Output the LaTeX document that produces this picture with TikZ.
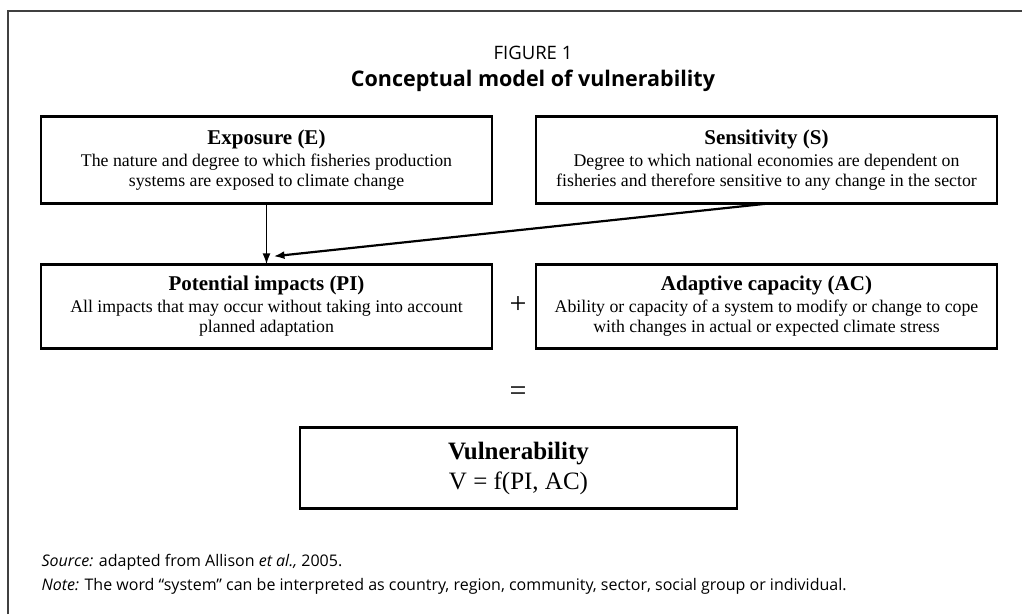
\documentclass[tikz,border=0pt]{standalone}
\usepackage{fontspec}
\setmainfont{Liberation Serif}
\setsansfont{Open Sans}
\usetikzlibrary{arrows.meta}

\newcommand{\boxhead}[1]{{\fontsize{21}{21}\selectfont\bfseries #1}}

\tikzset{
    frame/.style={line width=2pt, black!75},
    factor/.style={draw, line width=1.4pt, inner sep=0pt, align=center,
        font=\fontsize{17.8}{20}\selectfont},
    link/.style={-{Latex[length=11pt,width=8pt]}, line width=1.5pt},
    sign/.style={font=\fontsize{30}{30}\selectfont},
    remark/.style={anchor=west, font=\sffamily\fontsize{16}{19}\selectfont}
}

\begin{document}
\begin{tikzpicture}[x=1pt, y=-1pt]
    \useasboundingbox (0,0) rectangle (1022,614);
    \draw[frame] (8,614) -- (8,11) -- (1022,11);

    % heading
    \node[font=\sffamily\fontsize{18.5}{20}\selectfont] (fig) at (533,53) {FIGURE 1};
    \node[font=\sffamily\bfseries\fontsize{21.5}{24}\selectfont] (head) at (533,81)
        {Conceptual model of vulnerability};

    % the four factors
    \node[factor, minimum width=451pt, minimum height=86pt] (expo) at (266.5,160)
        {\boxhead{Exposure (E)}\\[2pt]The nature and degree to which fisheries production\\
         systems are exposed to climate change};
    \node[factor, minimum width=461pt, minimum height=86pt] (sens) at (766.5,160)
        {\boxhead{Sensitivity (S)}\\[2pt]Degree to which national economies are dependent on\\
         fisheries and therefore sensitive to any change in the sector};
    \node[factor, minimum width=451pt, minimum height=83pt] (pi) at (266.5,306.5)
        {\boxhead{Potential impacts (PI)}\\[2pt]All impacts that may occur without taking into account\\
         planned adaptation};
    \node[factor, minimum width=461pt, minimum height=83pt] (ac) at (766.5,306.5)
        {\boxhead{Adaptive capacity (AC)}\\[2pt]Ability or capacity of a system to modify or change to cope\\
         with changes in actual or expected climate stress};

    \node[sign] (plus) at (518,305) {+};
    \node[sign] (equal) at (518,394) {=};

    \node[factor, minimum width=437pt, minimum height=80pt,
        font=\fontsize{25}{30}\selectfont] (vul) at (518.5,468)
        {\textbf{Vulnerability}\\V = f(PI, AC)};

    % heavier top and bottom rules
    \foreach \b in {expo, sens, pi, ac, vul} {
        \draw[line width=3.5pt] (\b.north west) -- (\b.north east);
        \draw[line width=3.5pt] (\b.south west) -- (\b.south east);
    }

    % arrows
    \coordinate (meet) at ([xshift=7pt,yshift=8pt]pi.north);
    \draw[link] (expo.south) -- (pi.north);
    \draw[link, line width=2.2pt] (sens.south) -- (meet);

    % notes
    \node[remark] (src) at (38,562)
        {\textit{Source:} adapted from Allison \textit{et al.,} 2005.};
    \node[remark] (note) at (38,586)
        {\textit{Note:} The word “system” can be interpreted as country, region, community, sector, social group or individual.};
\end{tikzpicture}
\end{document}
